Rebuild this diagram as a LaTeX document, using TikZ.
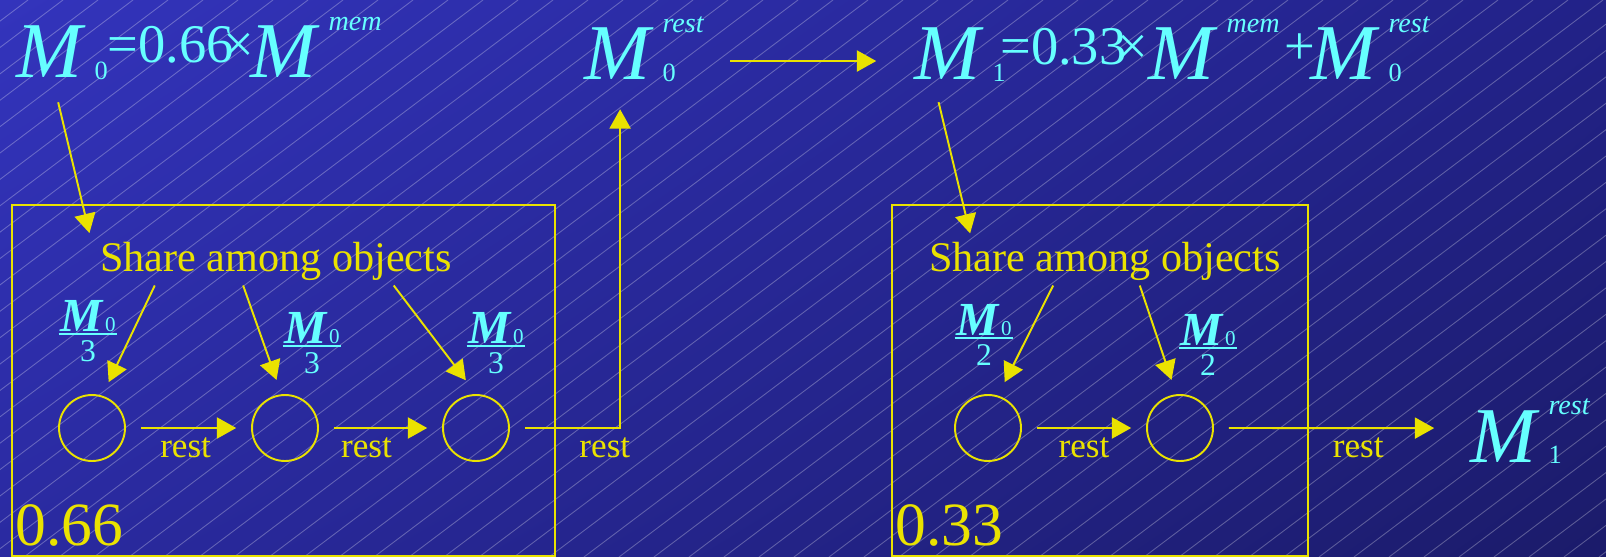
\documentclass[tikz,border=0pt]{standalone}
\usepackage{fontspec}
\setmainfont{Liberation Serif}
\usetikzlibrary{positioning,arrows.meta,shadings}

\definecolor{memcyan}{HTML}{66FFFF}
\definecolor{boxyellow}{HTML}{EAE200}
\definecolor{bgtl}{HTML}{3334BC}
\definecolor{bgtr}{HTML}{222288}
\definecolor{bgbl}{HTML}{2A2AA0}
\definecolor{bgbr}{HTML}{1B1B6A}

\newcommand\Mfont{\fontsize{45}{45}\selectfont\itshape}
\newcommand\supfont{\fontsize{16}{16}\selectfont\itshape}
\newcommand\subfont{\fontsize{15}{15}\selectfont\upshape}
\newcommand\midfont{\fontsize{31}{31}\selectfont\upshape}
% sub- and superscript stacked at the same x
\newcommand\subsup[2]{%
  \setbox0=\hbox{\supfont #2}\setbox2=\hbox{\subfont #1}%
  \ifdim\wd0>\wd2 \dimen0=\wd0 \else \dimen0=\wd2 \fi
  \hbox to \dimen0{\rlap{\raise27pt\box0}\lower1pt\box2\hss}}
\newcommand\tensM[2]{{\Mfont M}\kern7pt\subsup{#1}{#2}}
\newcommand\midtxt[1]{\raise9pt\hbox{\midfont #1}}
\newcommand\fracM[1]{\vbox{\offinterlineskip\halign{\hfil##\hfil\cr
    \kern1pt{\fontsize{27}{27}\selectfont\bfseries\itshape M}\kern1.5pt{\fontsize{12}{12}\selectfont 0}\kern1pt\cr
    \noalign{\kern0.6pt\hrule height 1.1pt\kern3.5pt}
    {\fontsize{18}{18}\selectfont #1}\cr}}}

\begin{document}
\begin{tikzpicture}[
    x=0.02cm, y=-0.02cm,
    >={Triangle[length=11pt,width=12pt]},
    txtcyan/.style={text=memcyan, inner sep=0pt},
    txtyellow/.style={text=boxyellow, inner sep=0pt},
    obj/.style={circle, draw=boxyellow, line width=1.1pt, minimum size=1.32cm, outer sep=9pt},
    arr/.style={->, boxyellow, line width=1.1pt},
    restlbl/.style={txtyellow, font=\fontsize{20}{20}\selectfont, anchor=base, yshift=-17pt},
    share/.style={txtyellow, font=\fontsize{24}{24}\selectfont, anchor=base},
    boxframe/.style={draw=boxyellow, line width=1.1pt},
    bignum/.style={txtyellow, font=\fontsize{35}{35}\selectfont, anchor=base west},
    hatchline/.style={white, opacity=0.28, line width=0.5pt}
  ]
  \useasboundingbox (0,0) rectangle (1606,557);
  % background
  \shade[upper left=bgtl, upper right=bgtr, lower left=bgbl, lower right=bgbr] (0,0) rectangle (1606,557);
  \begin{scope}
    \clip (0,0) rectangle (1606,557);
    \foreach \h in {-746,-711,...,1606}
      \draw[hatchline] (\h,557) -- ++(739,-557);
  \end{scope}

  % formulas
  \node[txtcyan, anchor=base west] (F0) at (16,78) {\tensM{0}{}\midtxt{=0.66\kern-6pt×}\kern-2pt\tensM{}{mem}};
  \node[txtcyan, anchor=base west] (M0r) at (584,80) {\tensM{0}{rest}};
  \node[txtcyan, anchor=base west] (F1) at (914,80) {\tensM{1}{}\kern-3pt\midtxt{=0.33\kern-5pt×}\tensM{}{mem}\kern3pt\midtxt{+}\kern-3pt\tensM{0}{rest}};
  \node[txtcyan, anchor=base west] (M1r) at (1470,462) {\tensM{1}{rest}};
  \draw[arr] ([shift={(15pt,10.8pt)}]M0r.base east) -- ([shift={(-21.5pt,10.8pt)}]F1.base west);

  % first share (0.66)
  \draw[boxframe] (12,205) rectangle (555,556);
  \node[share] (share0) at (276,272) {Share among objects};
  \node[obj] (a1) at (92,428) {};
  \node[obj] (a2) at (285,428) {};
  \node[obj] (a3) at (476,428) {};
  \node[txtcyan, anchor=north] (q1) at (88,300) {\fracM{3}};
  \node[txtcyan, anchor=north] (q2) at (312,312) {\fracM{3}};
  \node[txtcyan, anchor=north] (q3) at (496,312) {\fracM{3}};
  \node[bignum] (w0) at (15,545) {0.66};
  \draw[arr] ([shift={(24pt,-12.5pt)}]F0.south west) -- ([shift={(-6pt,5.3pt)}]share0.north west);
  \draw[arr] ([shift={(-69pt,-2.3pt)}]share0.south) -- (a1.70);
  \draw[arr] ([shift={(-18.7pt,-2.3pt)}]share0.south) -- (a2.100);
  \draw[arr] ([shift={(67pt,-2.3pt)}]share0.south) -- (a3.102);
  \draw[arr] (a1) -- node[restlbl, pos=0.47] {rest} (a2);
  \draw[arr] (a2) -- node[restlbl, pos=0.35] {rest} (a3);
  \draw[arr] (a3) -| node[restlbl, pos=0.42] {rest} ([shift={(-13.6pt,-15.3pt)}]M0r.south);

  % second share (0.33)
  \draw[boxframe] (892,205) rectangle (1308,556);
  \node[share] (share1) at (1105,272) {Share among objects};
  \node[obj] (b1) at (988,428) {};
  \node[obj] (b2) at (1180,428) {};
  \node[txtcyan, anchor=north] (h1) at (984,304) {\fracM{2}};
  \node[txtcyan, anchor=north] (h2) at (1208,314) {\fracM{2}};
  \node[bignum] (w1) at (895,545) {0.33};
  \draw[arr] ([shift={(14pt,-11.3pt)}]F1.south west) -- ([shift={(23.4pt,5.1pt)}]share1.north west);
  \draw[arr] ([shift={(-29.5pt,-2.3pt)}]share1.south) -- (b1.70);
  \draw[arr] ([shift={(19.8pt,-2.3pt)}]share1.south) -- (b2.100);
  \draw[arr] (b1) -- node[restlbl, pos=0.5] {rest} (b2);
  \draw[arr] (b2) -- node[restlbl, pos=0.63] {rest} ([shift={(-20.4pt,19.3pt)}]M1r.base west);
\end{tikzpicture}
\end{document}
